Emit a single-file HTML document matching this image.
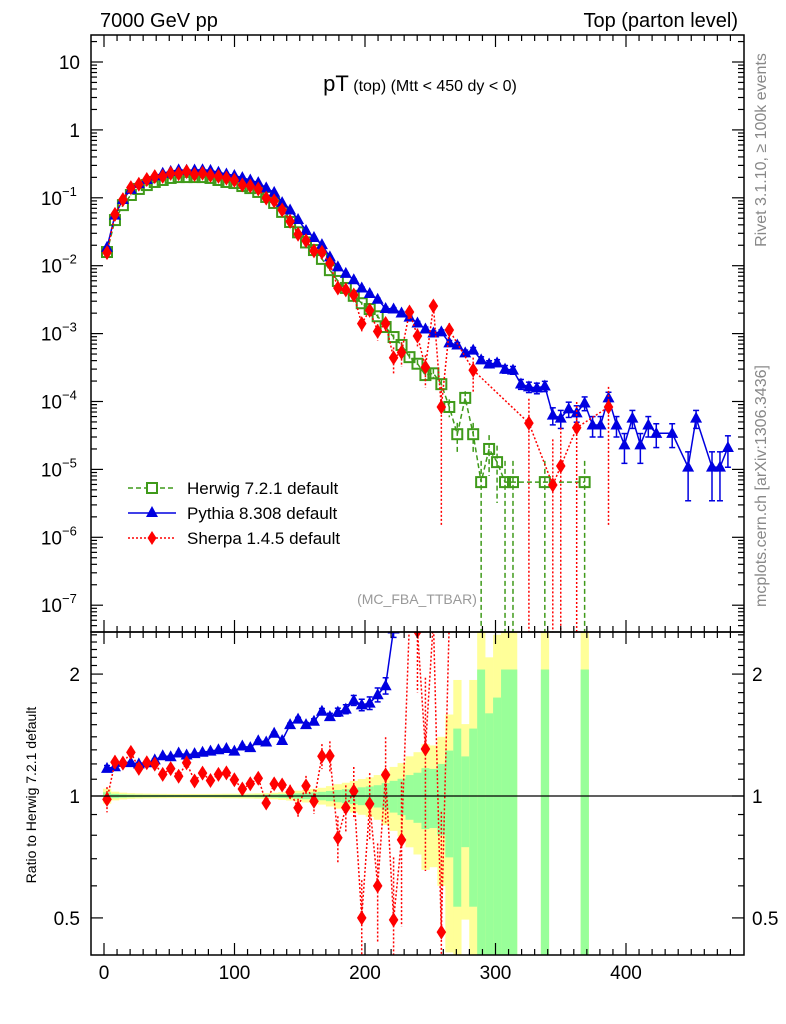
<!DOCTYPE html>
<html><head><meta charset="utf-8"><style>
html,body{margin:0;padding:0;background:#fff;width:786px;height:1024px;overflow:hidden;}
svg{display:block;font-family:"Liberation Sans",sans-serif;overflow:hidden;}
</style></head><body>
<svg id="chart" width="786" height="1024" viewBox="0 0 786 1024" xmlns="http://www.w3.org/2000/svg">
<defs>
<clipPath id="clipMain"><rect x="91" y="35" width="653" height="597"/></clipPath>
<clipPath id="clipRatio"><rect x="91" y="632" width="653" height="323"/></clipPath>
</defs>
<text x="100" y="27" font-size="20">7000 GeV pp</text>
<text x="738" y="27" font-size="20" text-anchor="end">Top (parton level)</text>
<text x="420" y="91" text-anchor="middle" font-size="16"><tspan font-size="22">pT</tspan> (top) (Mtt &lt; 450 dy &lt; 0)</text>
<text transform="translate(766,150) rotate(-90)" text-anchor="middle" font-size="16" fill="#888">Rivet 3.1.10, ≥ 100k events</text>
<text transform="translate(766,486) rotate(-90)" text-anchor="middle" font-size="16" fill="#888">mcplots.cern.ch [arXiv:1306.3436]</text>
<text x="417" y="604" text-anchor="middle" font-size="14" fill="#999">(MC_FBA_TTBAR)</text>
<text transform="translate(36,795) rotate(-90)" text-anchor="middle" font-size="14">Ratio to Herwig 7.2.1 default</text>
<g id="band" clip-path="url(#clipRatio)"></g>
<g id="mainMarks" clip-path="url(#clipMain)"></g>
<g id="ratioMarks" clip-path="url(#clipRatio)"></g>
<g id="axes"></g>
<g id="legend">
<g>
<line x1="128" y1="488" x2="176" y2="488" stroke="#3f9a1a" stroke-width="1.5" stroke-dasharray="5,3"/>
<rect x="147" y="483" width="10" height="10" fill="#fff" stroke="#3f9a1a" stroke-width="2"/>
<text x="187" y="494" font-size="17">Herwig 7.2.1 default</text></g>
<g>
<line x1="128" y1="513" x2="176" y2="513" stroke="#0000e0" stroke-width="1.5"/>
<polygon points="152,506 146,517 158,517" fill="#0000e0"/>
<text x="187" y="519" font-size="17">Pythia 8.308 default</text></g>
<g>
<line x1="128" y1="538" x2="176" y2="538" stroke="#ff0000" stroke-width="1.5" stroke-dasharray="2,2"/>
<polygon points="152,531 156.5,538 152,545 147.5,538" fill="#ff0000"/>
<text x="187" y="544" font-size="17">Sherpa 1.4.5 default</text></g>
</g>
</svg>
<script>
// ---- data ----
const binStart = 2.3;
const binStep = 6.1;
const herwig = [1.59e-2,4.7e-2,7.8e-2,0.110,0.135,0.154,0.171,0.183,0.196,0.202,0.202,0.202,0.202,0.196,0.183,0.171,0.165,0.149,0.139,0.122,0.103,8.4e-2,6.2e-2,4.4e-2,3.1e-2,2.2e-2,1.7e-2,1.26e-2,8.6e-3,5.96e-3,4.7e-3,3.6e-3,2.8e-3,2.3e-3,1.8e-3,1.25e-3,8.9e-4,6.8e-4,4.5e-4,3.6e-4,2.45e-4,2.6e-4,1.8e-4,8.3e-5,3.3e-5,1.13e-4,3.3e-5,6.5e-6,2.0e-5,1.28e-5,6.5e-6,6.5e-6,null,null,null,6.5e-6,null,null,null,null,6.5e-6];
const pythia = [0.0186,0.0555,0.0944,0.133,0.162,0.186,0.210,0.230,0.245,0.258,0.255,0.257,0.259,0.253,0.238,0.224,0.213,0.198,0.183,0.167,0.140,0.120,0.085,0.066,0.048,0.033,0.026,0.0204,0.0135,0.0096,0.0077,0.0062,0.0047,0.0039,0.0032,0.00234,
2.3e-3,2.01e-3,1.75e-3,1.43e-3,1.17e-3,1.02e-3,1.06e-3,7.3e-4,6.8e-4,5.2e-4,5.7e-4,4.1e-4,3.56e-4,3.7e-4,3.0e-4,2.9e-4,1.81e-4,1.64e-4,1.58e-4,1.69e-4,6.3e-5,5.7e-5,7.8e-5,6.8e-5,9.5e-5,4.5e-5,4.5e-5,1.13e-4,4.5e-5,2.3e-5,5.7e-5,2.3e-5,4.5e-5,3.4e-5,null,3.4e-5,null,1.08e-5,5.7e-5,null,1.08e-5,1.08e-5,2.1e-5];
const sherpa = [1.56e-2,5.7e-2,9.4e-2,0.141,0.158,0.186,0.205,0.207,0.229,0.226,0.244,0.220,0.230,0.214,0.207,0.195,0.181,0.155,0.149,0.135,0.099,9.0e-2,6.6e-2,4.5e-2,2.9e-2,2.33e-2,1.65e-2,1.58e-2,1.08e-2,4.7e-3,4.4e-3,3.7e-3,1.4e-3,2.2e-3,1.08e-3,1.41e-3,4.4e-4,5.3e-4,
2.08e-3,9.2e-4,3.2e-4,2.55e-3,8.3e-5,1.13e-3,null,null,2.9e-4,null,null,null,null,null,null,4.8e-5,null,null,5.9e-6,1.12e-5,null,4.1e-5,null,null,null,8.3e-5];
const xTicks = [0,100,200,300,400];
const yMainTicks = [10,1,0.1,0.01,0.001,1e-4,1e-5,1e-6,1e-7];
const yMainLabels = [["10",""],["1",""],["10","−1"],["10","−2"],["10","−3"],["10","−4"],["10","−5"],["10","−6"],["10","−7"]];
const yRatioTicks = [2,1,0.5];
const yRatioLabels = ["2","1","0.5"];

// ---- scales ----
const L=91,R=744,T=35,M=632,B=955;
function xS(v){return 104+v*1.305;}
function yM(v){ if(!(v>0)) return 640; return Math.min(640,62+(1-Math.log10(v))*67.9); }
function yR(r){ if(!(r>0)) return 965; return Math.max(620,Math.min(965,796-405*Math.log10(r))); }
function pT(k){return binStart+binStep*k;}
function relErr(v,c){return c/Math.sqrt(v/0.2);}
const NS="http://www.w3.org/2000/svg";
function mk(tag,attrs,parent){const e=document.createElementNS(NS,tag);for(const a in attrs)e.setAttribute(a,attrs[a]);parent.appendChild(e);return e;}
const gMain=document.getElementById('mainMarks');
const gRatio=document.getElementById('ratioMarks');
const gBand=document.getElementById('band');
const gAx=document.getElementById('axes');

// ---- ratio band ----
herwig.forEach((v,k)=>{
  if(v==null) return;
  const r=relErr(v,0.006);
  const x0=xS(pT(k)-binStep/2), w=xS(pT(k)+binStep/2)-x0+0.3;
  const yy1=yR(1+2*r), yy2=yR(Math.max(1-2*r,1e-3));
  const y1=yR(1+r), y2=yR(Math.max(1-r,1e-3));
  const a=mk('rect',{x:x0,y:yy1,width:w,height:yy2-yy1,fill:'#ffff99'},gBand);
  
  
  const b=mk('rect',{x:x0,y:y1,width:w,height:y2-y1,fill:'#99ff99'},gBand);
  
  
});
const one=mk('line',{x1:L,x2:R,y1:yR(1),y2:yR(1),stroke:'#000','stroke-width':1.2},gAx);



// ---- series drawing ----
function drawSeries(vals,opts,g,yfun,transform,lowY){
  let pts=[];
  vals.forEach((v,k)=>{
    if(v==null) return;
    const val=transform?transform(v,k):v;
    if(val==null) return;
    pts.push([xS(pT(k)),yfun(val),val,v,k]);
  });
  let d='';pts.forEach((p,i)=>{d+=(i?'L':'M')+p[0].toFixed(1)+','+p[1].toFixed(1);});
  const line=mk('path',{d:d,fill:'none',stroke:opts.color,'stroke-width':1.5,'stroke-dasharray':opts.dash||'none'},g);
  
  
  pts.forEach(p=>{
    const [x,y,val,raw,k]=p;
    const re=relErr(raw,opts.ec);
    const ey1=yfun(val*(1+re)), ey2=(1-re)>0?yfun(val*(1-re)):lowY;
    const eb=mk('line',{x1:x,x2:x,y1:ey1,y2:ey2,stroke:opts.color,'stroke-width':1.5,'stroke-dasharray':opts.dash||'none'},g);
    
    
    if(opts.caps){
      const c1=mk('line',{x1:x-3,x2:x+3,y1:ey1,y2:ey1,stroke:opts.color,'stroke-width':1.5},g);
      
      
      const c2=mk('line',{x1:x-3,x2:x+3,y1:ey2,y2:ey2,stroke:opts.color,'stroke-width':1.5},g);
      
      
    }
    let m;
    if(opts.marker==='square') m=mk('rect',{x:x-5,y:y-5,width:10,height:10,fill:'none',stroke:opts.color,'stroke-width':2},g);
    else if(opts.marker==='tri') m=mk('polygon',{points:`${x},${y-6.5} ${x-6},${y+4.5} ${x+6},${y+4.5}`,fill:opts.color},g);
    else m=mk('polygon',{points:`${x},${y-7.5} ${x+4.8},${y} ${x},${y+7.5} ${x-4.8},${y}`,fill:opts.color},g);
    
    
  });
}
drawSeries(herwig,{name:'herwig',color:'#3f9a1a',dash:'5,3',marker:'square',ec:0.006},gMain,yM,null,640);
drawSeries(pythia,{name:'pythia',color:'#0000e0',marker:'tri',ec:0.005,caps:true},gMain,yM,null,640);
drawSeries(sherpa,{name:'sherpa',color:'#ff0000',dash:'2,2',marker:'diamond',ec:0.02},gMain,yM,null,640);
const toRatio=(v,k)=>(herwig[k]!=null?v/herwig[k]:null);
drawSeries(pythia,{name:'pythia-ratio',color:'#0000e0',marker:'tri',ec:0.005,caps:true},gRatio,yR,toRatio,965);
drawSeries(sherpa,{name:'sherpa-ratio',color:'#ff0000',dash:'2,2',marker:'diamond',ec:0.02},gRatio,yR,toRatio,965);

// ---- axes ----
function tick(x1,y1,x2,y2,name){const t=mk('line',{x1:x1,y1:y1,x2:x2,y2:y2,stroke:'#000','stroke-width':1.2},gAx);}
const fr1=mk('rect',{x:L,y:T,width:R-L,height:M-T,fill:'none',stroke:'#000','stroke-width':1.5},gAx);


const fr2=mk('rect',{x:L,y:M,width:R-L,height:B-M,fill:'none',stroke:'#000','stroke-width':1.5},gAx);


for(let v=-10;v<=490;v+=10){
  const x=xS(v); if(x<L+1||x>R-1) continue;
  const len=(v%100===0)?12:6;
  [[T,1],[M,-1],[M,1],[B,-1]].forEach(([y,s])=>tick(x,y,x,y+s*len,'x-tick'));
}
xTicks.forEach(v=>{const t=mk('text',{x:xS(v),y:979,'text-anchor':'middle','font-size':19},gAx);t.textContent=v;});
for(let e=-8;e<=1;e++){
  for(let m=1;m<10;m++){
    const v=m*Math.pow(10,e);const y=62+(1-Math.log10(v))*67.9;
    if(y<T+1||y>M-1) continue;
    const len=m===1?12:6;
    tick(L,y,L+len,y,'y-tick');tick(R,y,R-len,y,'y-tick');
  }
}
yMainTicks.forEach((v,i)=>{
  const [b,s]=yMainLabels[i];
  const t=mk('text',{x:s?62:80,y:yM(v)+7,'text-anchor':'end','font-size':19},gAx);
  t.textContent=b;
  
  
  if(s){const sp=mk('text',{x:62,y:yM(v)-2,'font-size':13},gAx);sp.textContent=s;
    
    }
});
for(let r=0.4;r<=2.55;r+=0.1){
  const y=796-405*Math.log10(r); if(y<M+1||y>B-1) continue;
  const rr=Math.round(r*10)/10;
  const len=(rr===1||rr===2||rr===0.5)?12:6;
  tick(L,y,L+len,y,'ratio-y-tick');tick(R,y,R-len,y,'ratio-y-tick');
}
yRatioTicks.forEach((v,i)=>{
  const t=mk('text',{x:80,y:yR(v)+7,'text-anchor':'end','font-size':19},gAx);t.textContent=yRatioLabels[i];
  
  
  const t2=mk('text',{x:752,y:yR(v)+7,'font-size':19},gAx);t2.textContent=yRatioLabels[i];
  
  
});
</script>
</body></html>
